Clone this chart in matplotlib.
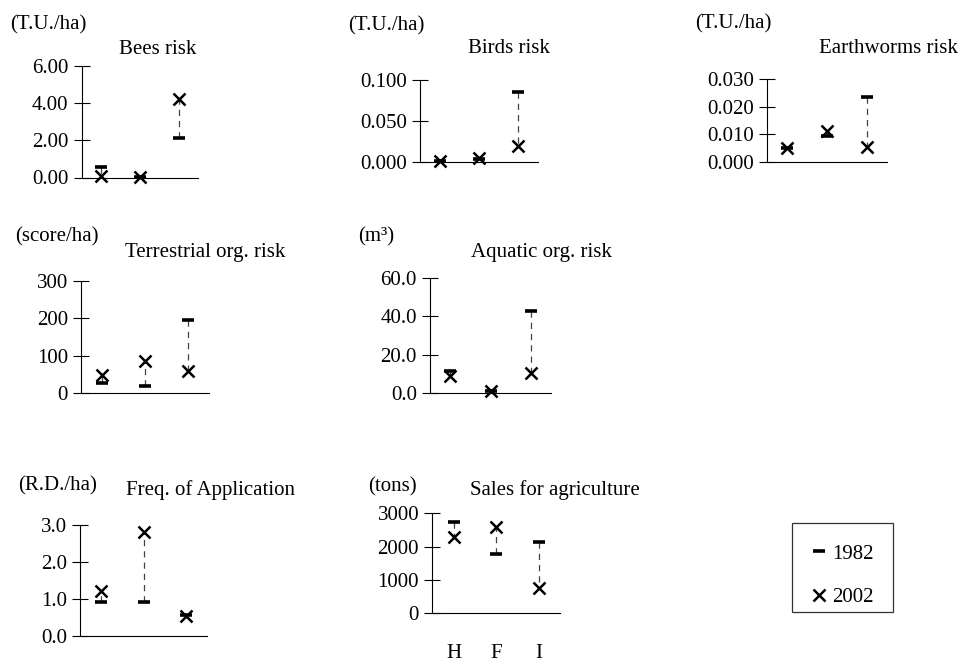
import numpy as np
import matplotlib.pyplot as plt
from matplotlib.lines import Line2D
from matplotlib.patches import Rectangle

plt.rcParams['font.family'] = ['Liberation Serif', 'DejaVu Serif']
plt.rcParams['font.size'] = 15

# --- data: risk indicators per category, 1982 vs 2002 ---
categories = ['H', 'F', 'I']

bees_1982 = [0.55, 0.02, 2.10]
bees_2002 = [0.10, 0.03, 4.20]

birds_1982 = [0.002, 0.004, 0.085]
birds_2002 = [0.002, 0.005, 0.020]

worms_1982 = [0.0050, 0.0095, 0.0235]
worms_2002 = [0.0050, 0.0110, 0.0055]

terr_1982 = [26, 19, 196]
terr_2002 = [47, 86, 60]

aqua_1982 = [11.5, 1.0, 43.0]
aqua_2002 = [8.5, 0.8, 10.3]

freq_1982 = [0.90, 0.92, 0.55]
freq_2002 = [1.22, 2.80, 0.53]

sales_1982 = [2740, 1780, 2130]
sales_2002 = [2290, 2580, 760]

W, H = 971, 664
fig = plt.figure(figsize=(W / 100, H / 100), dpi=100)


def px_axes(x0, x1, y0, y1):
    # axes box given in pixels from the top-left corner
    return fig.add_axes([x0 / W, 1 - y1 / H, (x1 - x0) / W, (y1 - y0) / H])


def px_text(x, y, s, ha='left'):
    fig.text(x / W, 1 - y / H, s, ha=ha, va='baseline')


def panel(box, v82, v02, ticks, fmt, unit, unit_pos, title, title_pos, xlabels=False):
    ax = px_axes(*box)
    x = np.arange(len(categories))
    ax.vlines(x, v82, v02, colors='#444444', lw=0.9, linestyles=(0, (5, 4)), zorder=2)
    ax.plot(x, v82, ls='none', marker='_', ms=8, mew=2.6, color='black', clip_on=False, zorder=3)
    ax.plot(x, v02, ls='none', marker='x', ms=9, mew=1.8, color='black', clip_on=False, zorder=4)
    ax.set_xlim(-0.5, 2.5)
    ax.set_ylim(ticks[0], ticks[-1])
    ax.set_yticks(ticks)
    ax.set_yticklabels([fmt.format(t) for t in ticks])
    ax.set_xticks(x)
    if xlabels:
        ax.set_xticklabels(categories)
        ax.tick_params(axis='x', length=0, pad=22)
    else:
        ax.set_xticklabels([])
        ax.tick_params(axis='x', length=0)
    ax.tick_params(axis='y', direction='inout', length=11, width=0.8, pad=4)
    for s in ['top', 'right']:
        ax.spines[s].set_visible(False)
    for s in ['left', 'bottom']:
        ax.spines[s].set_linewidth(0.8)
    ax.patch.set_visible(False)
    px_text(*unit_pos, unit)
    px_text(*title_pos, title, ha='center')
    return ax


panel((81.5, 198, 66, 177.5), bees_1982, bees_2002, [0, 2, 4, 6], '{:.2f}',
      '(T.U./ha)', (10, 29), 'Bees risk', (158, 54))
panel((420, 538, 80, 162.3), birds_1982, birds_2002, [0, 0.05, 0.1], '{:.3f}',
      '(T.U./ha)', (348, 30), 'Birds risk', (509, 53))
panel((767, 887, 79.3, 161.7), worms_1982, worms_2002, [0, 0.01, 0.02, 0.03], '{:.3f}',
      '(T.U./ha)', (695, 28), 'Earthworms risk', (888, 53))
panel((81, 209, 281, 393), terr_1982, terr_2002, [0, 100, 200, 300], '{:.0f}',
      '(score/ha)', (15, 241), 'Terrestrial org. risk', (205, 257))
panel((430, 551, 278.3, 392.7), aqua_1982, aqua_2002, [0, 20, 40, 60], '{:.1f}',
      '(m³)', (358, 241), 'Aquatic org. risk', (541, 257))
panel((80, 207, 525, 635.7), freq_1982, freq_2002, [0, 1, 2, 3], '{:.1f}',
      '(R.D./ha)', (18, 490), 'Freq. of Application', (210, 495))
panel((432.3, 560, 513.3, 613.3), sales_1982, sales_2002, [0, 1000, 2000, 3000], '{:.0f}',
      '(tons)', (368, 491), 'Sales for agriculture', (555, 495), xlabels=True)

# --- legend: entries without frame, box drawn separately ---
handles = [Line2D([], [], ls='none', marker='_', ms=8, mew=2.6, color='black'),
           Line2D([], [], ls='none', marker='x', ms=9, mew=1.8, color='black')]
fig.legend(handles, ['1982', '2002'], loc='upper left',
           bbox_to_anchor=(809 / W, 1 - 544 / H), frameon=False,
           handlelength=1.0, handletextpad=0.1, labelspacing=1.15,
           borderpad=0, borderaxespad=0)
fig.patches.append(Rectangle((792 / W, 1 - 612 / H), 101 / W, 89 / H,
                             transform=fig.transFigure, fill=False,
                             edgecolor='#333333', lw=0.9))

fig.savefig('out.png', dpi=100)
